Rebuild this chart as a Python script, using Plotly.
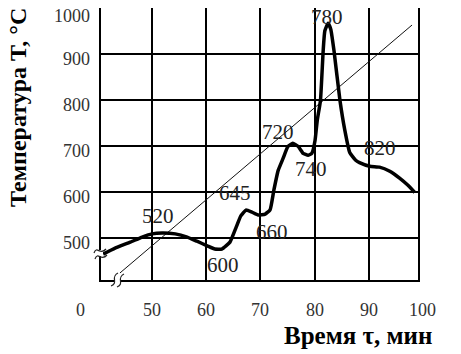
import plotly.graph_objects as go

# Curve: time (min) vs temperature (°C)
time_min = [41.0, 43.2, 46.0, 48.2, 50.0, 51.9, 54.3, 56.5, 58.3, 60.2, 61.6, 62.9,
            64.4, 65.5, 66.4, 67.4, 68.5, 69.6, 70.9, 71.8, 72.5, 73.3, 74.2, 75.1,
            76.0, 77.0, 77.9, 78.8, 79.5, 80.1, 80.5, 81.1, 81.6, 81.9, 82.5, 83.0,
            83.6, 84.7, 85.6, 86.5, 87.6, 88.3, 90.2, 92.0, 93.9, 95.7, 97.2, 98.5]
temp_c = [465, 478, 491, 502, 509, 511, 509, 502, 493, 483, 476, 476,
          491, 522, 548, 561, 556, 550, 552, 561, 604, 647, 673, 699,
          706, 699, 684, 680, 684, 712, 755, 799, 907, 950, 967, 954,
          907, 799, 734, 686, 669, 664, 656, 654, 645, 630, 615, 599]

# Straight reference line
trend_x = [44.1, 98.0]
trend_y = [424, 963]

# Point labels
label_text = ["520", "600", "645", "660", "720", "740", "780", "820"]
label_x = [51.1, 63.1, 65.3, 72.2, 73.3, 79.4, 82.3, 92.1]
label_y = [547, 441, 597, 513, 731, 651, 981, 695]

x_ticks = [50, 60, 70, 80, 90, 100]
y_ticks = [500, 600, 700, 800, 900, 1000]

X0, X1 = 40.6, 99.1
Y0, Y1 = 408.7, 1000

FONT = "Liberation Serif"

fig = go.Figure()
fig.add_trace(go.Scatter(x=trend_x, y=trend_y, mode="lines",
                         line=dict(color="#111", width=1), hoverinfo="skip"))
fig.add_trace(go.Scatter(x=time_min, y=temp_c, mode="lines",
                         line=dict(color="black", width=3.5, shape="spline", smoothing=0.4),
                         hoverinfo="skip"))

annotations = []
for t, x, y in zip(label_text, label_x, label_y):
    annotations.append(dict(x=x, y=y, xref="x", yref="y", text=t, showarrow=False,
                            xanchor="center", yanchor="middle",
                            font=dict(family=FONT, size=21, color="#222")))

# y tick labels
for v in y_ticks:
    annotations.append(dict(x=-0.028, y=v, xref="paper", yref="y", text=str(v),
                            showarrow=False, xanchor="right", yanchor="middle",
                            yshift=-8 if v == 1000 else -5,
                            font=dict(family=FONT, size=18, color="#333")))

# x tick labels (100 lies just beyond the drawn frame)
for v in x_ticks:
    annotations.append(dict(x=(v - X0) / (X1 - X0), y=-0.110, xref="paper", yref="paper",
                            text=str(v), showarrow=False, xanchor="center", yanchor="middle",
                            font=dict(family=FONT, size=18, color="#333")))
annotations.append(dict(x=(80 - 101) / 317, y=-0.110, xref="paper", yref="paper", text="0",
                        showarrow=False, xanchor="center", yanchor="middle",
                        font=dict(family=FONT, size=18, color="#333")))

annotations.append(dict(x=(358 - 101) / 317, y=(280 - 335) / 272, xref="paper", yref="paper",
                        text="<b>Время τ, мин</b>", showarrow=False,
                        xanchor="center", yanchor="middle",
                        font=dict(family=FONT, size=25, color="black")))
annotations.append(dict(x=(18 - 101) / 317, y=(280 - 108) / 272, xref="paper", yref="paper",
                        text="<b>Температура T, °C</b>", showarrow=False, textangle=-90,
                        xanchor="center", yanchor="middle",
                        font=dict(family=FONT, size=24, color="black")))

def px2paper(px, py):
    return (px - 101) / 317, (280 - py) / 272

def squiggle(p0, p1, p2, p3):
    a = px2paper(*p0); b = px2paper(*p1); c = px2paper(*p2); d = px2paper(*p3)
    return dict(type="path", xref="paper", yref="paper",
                path=f"M {a[0]},{a[1]} C {b[0]},{b[1]} {c[0]},{c[1]} {d[0]},{d[1]}",
                line=dict(color="#222", width=1.2))

shapes = [
    # axis break marks on y axis
    dict(type="rect", xref="paper", yref="paper",
         x0=px2paper(99, 0)[0], x1=px2paper(103, 0)[0],
         y0=px2paper(0, 256)[1], y1=px2paper(0, 250)[1],
         fillcolor="white", line=dict(width=0)),
    squiggle((94, 253), (97, 245), (100, 256), (106, 249)),
    squiggle((95, 259), (98, 251), (101, 262), (107, 255)),
    # axis break marks on x axis
    dict(type="rect", xref="paper", yref="paper",
         x0=px2paper(115, 0)[0], x1=px2paper(121, 0)[0],
         y0=px2paper(0, 282)[1], y1=px2paper(0, 278)[1],
         fillcolor="white", line=dict(width=0)),
    squiggle((111, 286), (119, 283), (110, 277), (118, 273)),
    squiggle((117, 287), (125, 284), (116, 278), (124, 274)),
]

# The page body adds an 8px margin, so the figure is 8px smaller each way
fig.update_layout(
    width=453, height=346,
    margin=dict(l=93, r=43, t=0, b=74, autoexpand=False),
    paper_bgcolor="white", plot_bgcolor="white",
    showlegend=False,
    annotations=annotations,
    shapes=shapes,
    xaxis=dict(range=[X0, X1], tickvals=x_ticks, showticklabels=False,
               showgrid=True, gridcolor="black", gridwidth=1.5,
               showline=True, linecolor="black", linewidth=1.5, mirror=True,
               zeroline=False, ticks="", automargin=False),
    yaxis=dict(range=[Y0, Y1], tickvals=y_ticks, showticklabels=False,
               showgrid=True, gridcolor="black", gridwidth=1.5,
               showline=True, linecolor="black", linewidth=1.5, mirror=True,
               zeroline=False, ticks="", automargin=False),
)

fig.write_html("out.html")
